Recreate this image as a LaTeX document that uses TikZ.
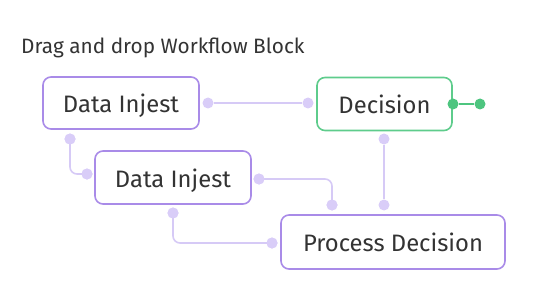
\documentclass[tikz,border=0pt]{standalone}
\usepackage{fontspec}
\setmainfont{Fira Sans}
\definecolor{boxpurple}{HTML}{A98BE8}
\definecolor{linepurple}{HTML}{D6CAF6}
\definecolor{dotpurple}{HTML}{D9CDF8}
\definecolor{boxgreen}{HTML}{5ECC8C}
\definecolor{dotgreen}{HTML}{4DC57F}
\definecolor{txt}{HTML}{333333}
\begin{document}
\begin{tikzpicture}[x=1pt,y=-1pt,
  block/.style={draw=boxpurple,line width=1.6pt,rounded corners=8pt,fill=white,
    inner sep=0pt,minimum height=52pt,text=txt,font=\fontsize{23.8}{28}\selectfont,
    text height=19pt,text depth=0pt},
  gblock/.style={block,draw=boxgreen},
  pdot/.style={circle,fill=dotpurple,inner sep=0pt,minimum size=11pt},
  gdot/.style={circle,fill=dotgreen,inner sep=0pt,minimum size=11pt},
  conn/.style={draw=linepurple,line width=1.6pt,rounded corners=7pt},
  gconn/.style={draw=dotgreen,line width=1.6pt}]
\useasboundingbox (0,0) rectangle (548,302);
\node[anchor=base west,text=txt,font=\fontsize{20.8}{24}\selectfont,inner sep=0pt] (title) at (21,54) {Drag and drop Workflow Block};
% dots
\node[pdot] (d1r) at (208,103) {};
\node[pdot] (d1b) at (70,139) {};
\node[pdot] (dDl) at (308,103) {};
\node[pdot] (dDb) at (384,139) {};
\node[pdot] (d2l) at (87,174) {};
\node[pdot] (d2r) at (259,179) {};
\node[pdot] (d2b) at (173,213) {};
\node[pdot] (dP1) at (332,205) {};
\node[pdot] (dP2) at (384,205) {};
\node[pdot] (dPl) at (272,243) {};
% connectors
\draw[conn] (d1r) -- (dDl);
\draw[conn] (dDb) -- (dP2);
\draw[conn] (d1b.center) |- (d2l.center);
\draw[conn] (d2r.center) -| (dP1.center);
\draw[conn] (d2b.center) |- (dPl.center);
\node[pdot] at (d1b) {};
\node[pdot] at (d2l) {};
\node[pdot] at (d2r) {};
\node[pdot] at (dP1) {};
\node[pdot] at (d2b) {};
\node[pdot] at (dPl) {};
% blocks
\node[block,minimum width=156pt] (b1) at (121,103) {Data Injest};
\node[gblock,minimum width=135pt,minimum height=53pt] (dec) at (384.5,104) {Decision};
\node[block,minimum width=156pt,minimum height=53pt] (b2) at (173,177.5) {Data Injest};
\node[block,minimum width=224pt,minimum height=54pt] (pd) at (393,242) {Process Decision};
% green
\node[gdot] (gR) at (453,104) {};
\node[gdot] (gE) at (480,104) {};
\draw[gconn] (gR) -- (gE);
\end{tikzpicture}
\end{document}
